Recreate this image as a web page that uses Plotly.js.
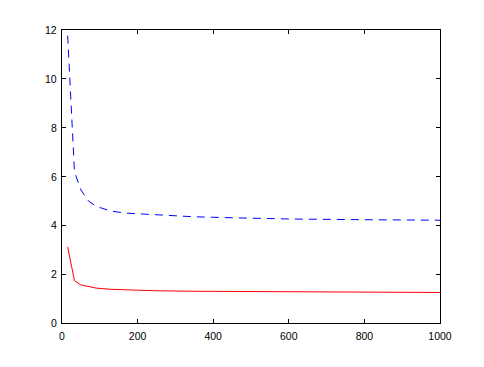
<!DOCTYPE html>
<html>
<head>
<meta charset="utf-8">
<script src="https://cdn.plot.ly/plotly-3.0.1.min.js"></script>
<style>html,body{margin:0;padding:0;background:#fff;}#chart{width:484px;height:367px;}</style>
</head>
<body>
<div id="chart"></div>
<script>
// Data
const xValues = [15, 33, 50, 70, 90, 130, 170, 250, 350, 450, 600, 800, 1000];
const blueDashed = [11.77, 6.19, 5.45, 5.0, 4.78, 4.58, 4.50, 4.42, 4.35, 4.31, 4.26, 4.23, 4.21];
const redSolid = [3.12, 1.73, 1.56, 1.48, 1.43, 1.38, 1.35, 1.32, 1.30, 1.29, 1.27, 1.26, 1.25];
const xTicks = [0, 200, 400, 600, 800, 1000];
const yTicks = [0, 2, 4, 6, 8, 10, 12];

const tickFont = {family: 'Liberation Sans, Arial, sans-serif', size: 10.5, color: '#000'};

const traces = [
  {x: xValues, y: blueDashed, type: 'scatter', mode: 'lines',
   line: {color: 'rgb(0,0,255)', width: 1, dash: '8px,6px'}, hoverinfo: 'skip'},
  {x: xValues, y: redSolid, type: 'scatter', mode: 'lines',
   line: {color: 'rgb(255,0,0)', width: 1}, hoverinfo: 'skip'}
];

const axisCommon = {
  showline: true, linecolor: '#000', linewidth: 1, mirror: 'ticks',
  ticks: 'inside', ticklen: 4, tickcolor: '#000', tickwidth: 1,
  showgrid: false, zeroline: false, tickfont: tickFont
};

// y tick labels placed close to the axis, as in the reference
const yLabelAnnotations = yTicks.map(v => ({
  x: 0, xref: 'x', y: v, yref: 'y', text: String(v), showarrow: false,
  xanchor: 'right', yanchor: 'middle', xshift: -3, font: tickFont
}));

const layout = {
  width: 484, height: 367,
  margin: {l: 62, r: 44, t: 30, b: 44},
  paper_bgcolor: '#fff', plot_bgcolor: '#fff',
  showlegend: false,
  xaxis: Object.assign({}, axisCommon, {range: [0, 1000], tickmode: 'array', tickvals: xTicks, ticktext: xTicks.map(String), ticklabelstandoff: 3}),
  yaxis: Object.assign({}, axisCommon, {range: [0, 12], tickmode: 'array', tickvals: yTicks, showticklabels: false}),
  annotations: yLabelAnnotations
};

Plotly.newPlot('chart', traces, layout, {staticPlot: true, displayModeBar: false});
</script>
</body>
</html>
